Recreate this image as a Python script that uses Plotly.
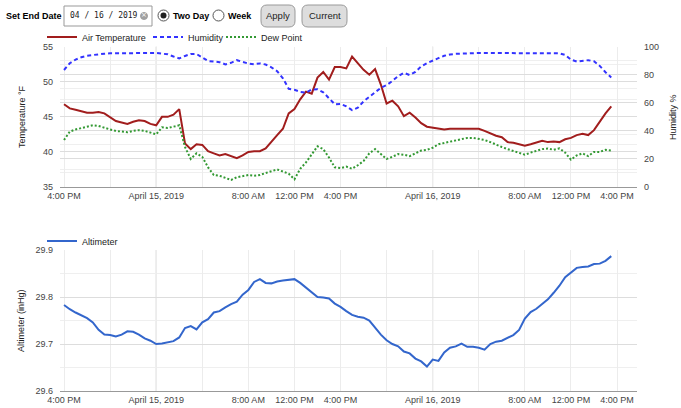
import plotly.graph_objects as go
import pandas as pd

# ---------------- data ----------------
TIMES = pd.date_range("2019-04-14 16:00", periods=96, freq="30min")

AIR_TEMP = [
    46.8, 46.2, 46.0, 45.8, 45.6, 45.6, 45.7, 45.5, 44.9, 44.4,
    44.2, 44.0, 44.3, 44.5, 44.4, 44.0, 43.8, 45.0, 45.0, 45.3,
    46.1, 41.2, 40.4, 41.1, 41.0, 40.1, 39.8, 39.5, 39.7, 39.4,
    39.1, 39.5, 40.0, 40.1, 40.1, 40.5, 41.5, 42.4, 43.3, 45.5,
    46.1, 47.5, 48.6, 48.3, 50.6, 51.4, 50.3, 52.1, 52.1, 51.9,
    53.6, 52.6, 51.7, 51.0, 51.8, 49.6, 46.9, 47.3, 46.5, 45.1,
    45.6, 44.9, 44.1, 43.6, 43.5, 43.3, 43.2, 43.3, 43.3, 43.3,
    43.3, 43.3, 43.3, 43.0, 42.6, 42.3, 42.1, 41.4, 41.3, 41.1,
    40.9, 41.1, 41.4, 41.6, 41.4, 41.5, 41.4, 41.8, 42.0, 42.4,
    42.6, 42.4, 43.1, 44.4, 45.5, 46.5,
]

HUMIDITY = [
    83.4, 88.2, 90.8, 92.5, 93.6, 94.2, 94.6, 95.0, 95.3, 95.4,
    95.5, 95.5, 95.5, 95.5, 95.5, 95.5, 95.5, 95.2, 94.6, 93.0,
    91.7, 93.4, 94.8, 94.8, 92.6, 89.8, 89.4, 89.0, 87.4, 88.5,
    90.4, 89.3, 88.0, 87.5, 88.1, 87.3, 85.3, 82.5, 77.5, 70.0,
    69.3, 67.8, 67.2, 69.5, 69.6, 67.5, 63.0, 59.0, 59.2, 57.5,
    54.8, 56.5, 61.0, 64.5, 67.5, 70.7, 72.6, 75.6, 79.0, 81.4,
    79.8, 82.0, 86.0, 88.3, 90.3, 91.8, 93.5, 94.5, 94.9, 95.2,
    95.3, 95.4, 95.5, 95.5, 95.6, 95.6, 95.6, 95.7, 95.7, 95.7,
    95.8, 95.8, 95.8, 95.8, 95.8, 95.6, 95.3, 94.1, 90.8, 89.4,
    90.1, 90.4, 89.6, 86.3, 81.8, 78.1,
]

DEW_POINT = [
    41.7, 42.9, 43.2, 43.4, 43.6, 43.8, 43.7, 43.4, 43.2, 43.0,
    42.9, 42.8, 43.0, 43.1, 43.0, 42.7, 42.5, 43.5, 43.4, 43.6,
    43.8, 40.7, 39.0, 39.8, 39.3, 37.8, 36.7, 36.6, 36.3, 36.0,
    36.4, 36.5, 36.7, 36.6, 36.7, 37.0, 37.2, 37.5, 37.2, 36.9,
    36.1, 37.6, 38.5, 39.7, 40.8, 40.4, 39.2, 37.8, 37.7, 37.9,
    37.6, 38.1, 38.7, 39.8, 40.4, 39.7, 39.0, 39.3, 39.7, 39.6,
    39.4, 39.8, 40.2, 40.3, 40.6, 41.1, 41.3, 41.5, 41.7, 41.8,
    42.0, 42.0, 41.9, 41.7, 41.4, 41.0, 40.7, 40.4, 40.1, 39.9,
    39.6, 39.9, 40.2, 40.4, 40.5, 40.3, 40.5, 39.9, 38.9, 39.5,
    39.8, 39.4, 40.0, 40.0, 40.3, 40.2,
]

ALTIMETER = [
    29.783, 29.774, 29.767, 29.761, 29.755, 29.746, 29.730, 29.720, 29.719, 29.716,
    29.720, 29.727, 29.726, 29.720, 29.712, 29.707, 29.700, 29.701, 29.704, 29.706,
    29.714, 29.734, 29.738, 29.731, 29.746, 29.753, 29.767, 29.770, 29.778, 29.785,
    29.790, 29.805, 29.815, 29.832, 29.838, 29.830, 29.829, 29.833, 29.835, 29.837,
    29.838, 29.830, 29.820, 29.808, 29.800, 29.799, 29.797, 29.786, 29.779, 29.770,
    29.762, 29.758, 29.756, 29.750, 29.734, 29.720, 29.708, 29.700, 29.695, 29.684,
    29.680, 29.669, 29.663, 29.652, 29.667, 29.664, 29.682, 29.692, 29.695, 29.701,
    29.694, 29.694, 29.692, 29.688, 29.700, 29.705, 29.707, 29.713, 29.719, 29.730,
    29.754, 29.768, 29.775, 29.785, 29.795, 29.809, 29.824, 29.842, 29.852, 29.862,
    29.864, 29.865, 29.870, 29.871, 29.877, 29.887,
]

TICK_VALUES = pd.date_range("2019-04-14 16:00", periods=13, freq="4h")
TICK_LABELS = ["4:00 PM", "", "April 15, 2019", "", "8:00 AM", "12:00 PM", "4:00 PM",
               "", "April 16, 2019", "", "8:00 AM", "12:00 PM", "4:00 PM"]
X_RANGE = ["2019-04-14 15:39", "2019-04-16 17:44"]

# ---------------- layout helpers ----------------
W, H = 681, 408


def fx(px):
    return px / W


def fy(py):
    return 1 - py / H


BASE = "Liberation Sans, Arial, sans-serif"
TICK_FONT = dict(family=BASE, size=9, color="#444444")
UI_FONT = BASE
GRID = "#dddddd"
MINOR = "#efefef"
VGRID = "#ececec"

fig = go.Figure()
fig.add_trace(go.Scatter(x=TIMES, y=AIR_TEMP, name="Air Temperature", mode="lines",
                         line=dict(color="#a11d1d", width=2), xaxis="x", yaxis="y",
                         legend="legend"))
fig.add_trace(go.Scatter(x=TIMES, y=HUMIDITY, name="Humidity", mode="lines",
                         line=dict(color="#3333ff", width=2, dash="4px,3px"),
                         xaxis="x", yaxis="y2", legend="legend2"))
fig.add_trace(go.Scatter(x=TIMES, y=DEW_POINT, name="Dew Point", mode="lines",
                         line=dict(color="#339933", width=2, dash="2px,2px"),
                         xaxis="x", yaxis="y", legend="legend3"))
fig.add_trace(go.Scatter(x=TIMES, y=ALTIMETER, name="Altimeter", mode="lines",
                         line=dict(color="#3366cc", width=2), xaxis="x2", yaxis="y3",
                         legend="legend4"))

xcommon = dict(type="date", range=X_RANGE, tickmode="array", tickvals=TICK_VALUES,
               ticktext=TICK_LABELS, showgrid=True, gridcolor=VGRID, gridwidth=1,
               showline=True, linecolor="#999999", linewidth=1, ticks="",
               tickfont=TICK_FONT, zeroline=False, ticklabelstandoff=0,
               automargin=False, domain=[fx(60), fx(637)])

ycommon = dict(showgrid=True, gridcolor=GRID, zeroline=False, ticks="",
               tickfont=TICK_FONT, ticklabelstandoff=6, automargin=False,
               showline=False)

legend_common = dict(orientation="h", xanchor="left", yanchor="middle",
                     bgcolor="rgba(0,0,0,0)", font=dict(family=BASE, size=9, color="#222222"),
                     itemwidth=30, borderwidth=0)

fig.update_layout(
    template="none",
    width=W, height=H, autosize=False,
    margin=dict(l=0, r=0, t=0, b=0, pad=0, autoexpand=False),
    paper_bgcolor="white", plot_bgcolor="white",
    font=dict(family=BASE, size=9, color="#222222"),
    xaxis=dict(anchor="y", **xcommon),
    xaxis2=dict(anchor="y3", **xcommon),
    yaxis=dict(domain=[fy(187), fy(46.7)], range=[35, 55], tick0=35, dtick=5, anchor="x",
               minor=dict(dtick=2.5, tick0=35, showgrid=True, gridcolor=MINOR, ticks=""),
               **ycommon),
    yaxis2=dict(overlaying="y", side="right", range=[0, 100], tick0=0, dtick=20, anchor="x",
                minor=dict(dtick=10, tick0=0, showgrid=True, gridcolor=MINOR, ticks=""),
                **ycommon),
    yaxis3=dict(domain=[fy(391), fy(250)], range=[29.6, 29.9], tick0=29.6, dtick=0.1,
                tickformat=".1f", anchor="x2",
                minor=dict(dtick=0.05, tick0=29.6, showgrid=True, gridcolor=MINOR, ticks=""),
                **ycommon),
    legend=dict(x=fx(42), y=fy(37), **legend_common),
    legend2=dict(x=fx(148), y=fy(37), **legend_common),
    legend3=dict(x=fx(221), y=fy(37), **legend_common),
    legend4=dict(x=fx(42), y=fy(241), **legend_common),
    showlegend=True,
)

shapes = []
annotations = []

# darker gridlines at midnight (date labels)
for tv, tl in zip(TICK_VALUES, TICK_LABELS):
    if tl.startswith("April"):
        for xr, yr in (("x", "y domain"), ("x2", "y3 domain")):
            shapes.append(dict(type="line", xref=xr, yref=yr, x0=tv, x1=tv, y0=0, y1=1,
                               line=dict(color="#cccccc", width=1), layer="below"))

# axis titles
title_font = dict(family=BASE, size=9, color="#222222")
annotations += [
    dict(text="Temperature °F", x=fx(22), y=fy(117), textangle=-90),
    dict(text="Humidity %", x=fx(673), y=fy(117), textangle=-90),
    dict(text="Altimeter (inHg)", x=fx(21), y=fy(321), textangle=-90),
]
for a in annotations:
    a.update(xref="paper", yref="paper", showarrow=False, font=title_font,
             xanchor="center", yanchor="middle")


# ---------------- header controls ----------------
def txt(text, x, y, size=9.5, family=UI_FONT, color="#000000", anchor="left"):
    annotations.append(dict(text=text, x=fx(x), y=fy(y), xref="paper", yref="paper",
                            showarrow=False, xanchor=anchor, yanchor="middle",
                            font=dict(family=family, size=size, color=color)))


def rounded(x0, y0, x1, y1, r, fill, line):
    X0, X1 = fx(x0), fx(x1)
    Y0, Y1 = fy(y0), fy(y1)
    rx, ry = r / W, r / H
    path = (f"M{X0 + rx},{Y0} L{X1 - rx},{Y0} Q{X1},{Y0} {X1},{Y0 - ry} "
            f"L{X1},{Y1 + ry} Q{X1},{Y1} {X1 - rx},{Y1} L{X0 + rx},{Y1} "
            f"Q{X0},{Y1} {X0},{Y1 + ry} L{X0},{Y0 - ry} Q{X0},{Y0} {X0 + rx},{Y0} Z")
    shapes.append(dict(type="path", path=path, xref="paper", yref="paper",
                       fillcolor=fill, line=dict(color=line, width=1)))


def circle(cx, cy, r, fill, line, lw=1):
    shapes.append(dict(type="circle", xref="paper", yref="paper",
                       x0=fx(cx - r), x1=fx(cx + r), y0=fy(cy + r), y1=fy(cy - r),
                       fillcolor=fill, line=dict(color=line, width=lw)))


txt("<b>Set End Date</b>", 4, 16, size=9)
shapes.append(dict(type="rect", xref="paper", yref="paper", x0=fx(64), x1=fx(152),
                   y0=fy(26), y1=fy(6), fillcolor="white",
                   line=dict(color="#999999", width=1)))
txt("04 / 16 / 2019", 68, 16, size=8, family="DejaVu Sans Mono, monospace", color="#222222")
circle(144, 16, 3.5, "#a0a0a0", "#a0a0a0")
txt("×", 144, 15.5, size=7, family="DejaVu Sans, sans-serif", color="white", anchor="center")

circle(163.5, 15.5, 5.5, "white", "#555555")
circle(163.5, 15.5, 3, "#222222", "#222222", 0)
txt("<b>Two Day</b>", 171, 16, size=9)
circle(218.5, 15.5, 5.5, "white", "#555555")
txt("<b>Week</b>", 226, 16, size=9)

rounded(261, 5, 295, 27, 6, "#dddddd", "#999999")
txt("Apply", 278, 16, color="#222222", anchor="center")
rounded(302, 5, 347, 27, 6, "#dddddd", "#999999")
txt("Current", 324.5, 16, color="#222222", anchor="center")

fig.update_layout(shapes=shapes, annotations=annotations)

fig.write_html("out.html",
               config={"displayModeBar": False},
               post_script="document.body.style.margin='0px';document.body.style.padding='0px';")
